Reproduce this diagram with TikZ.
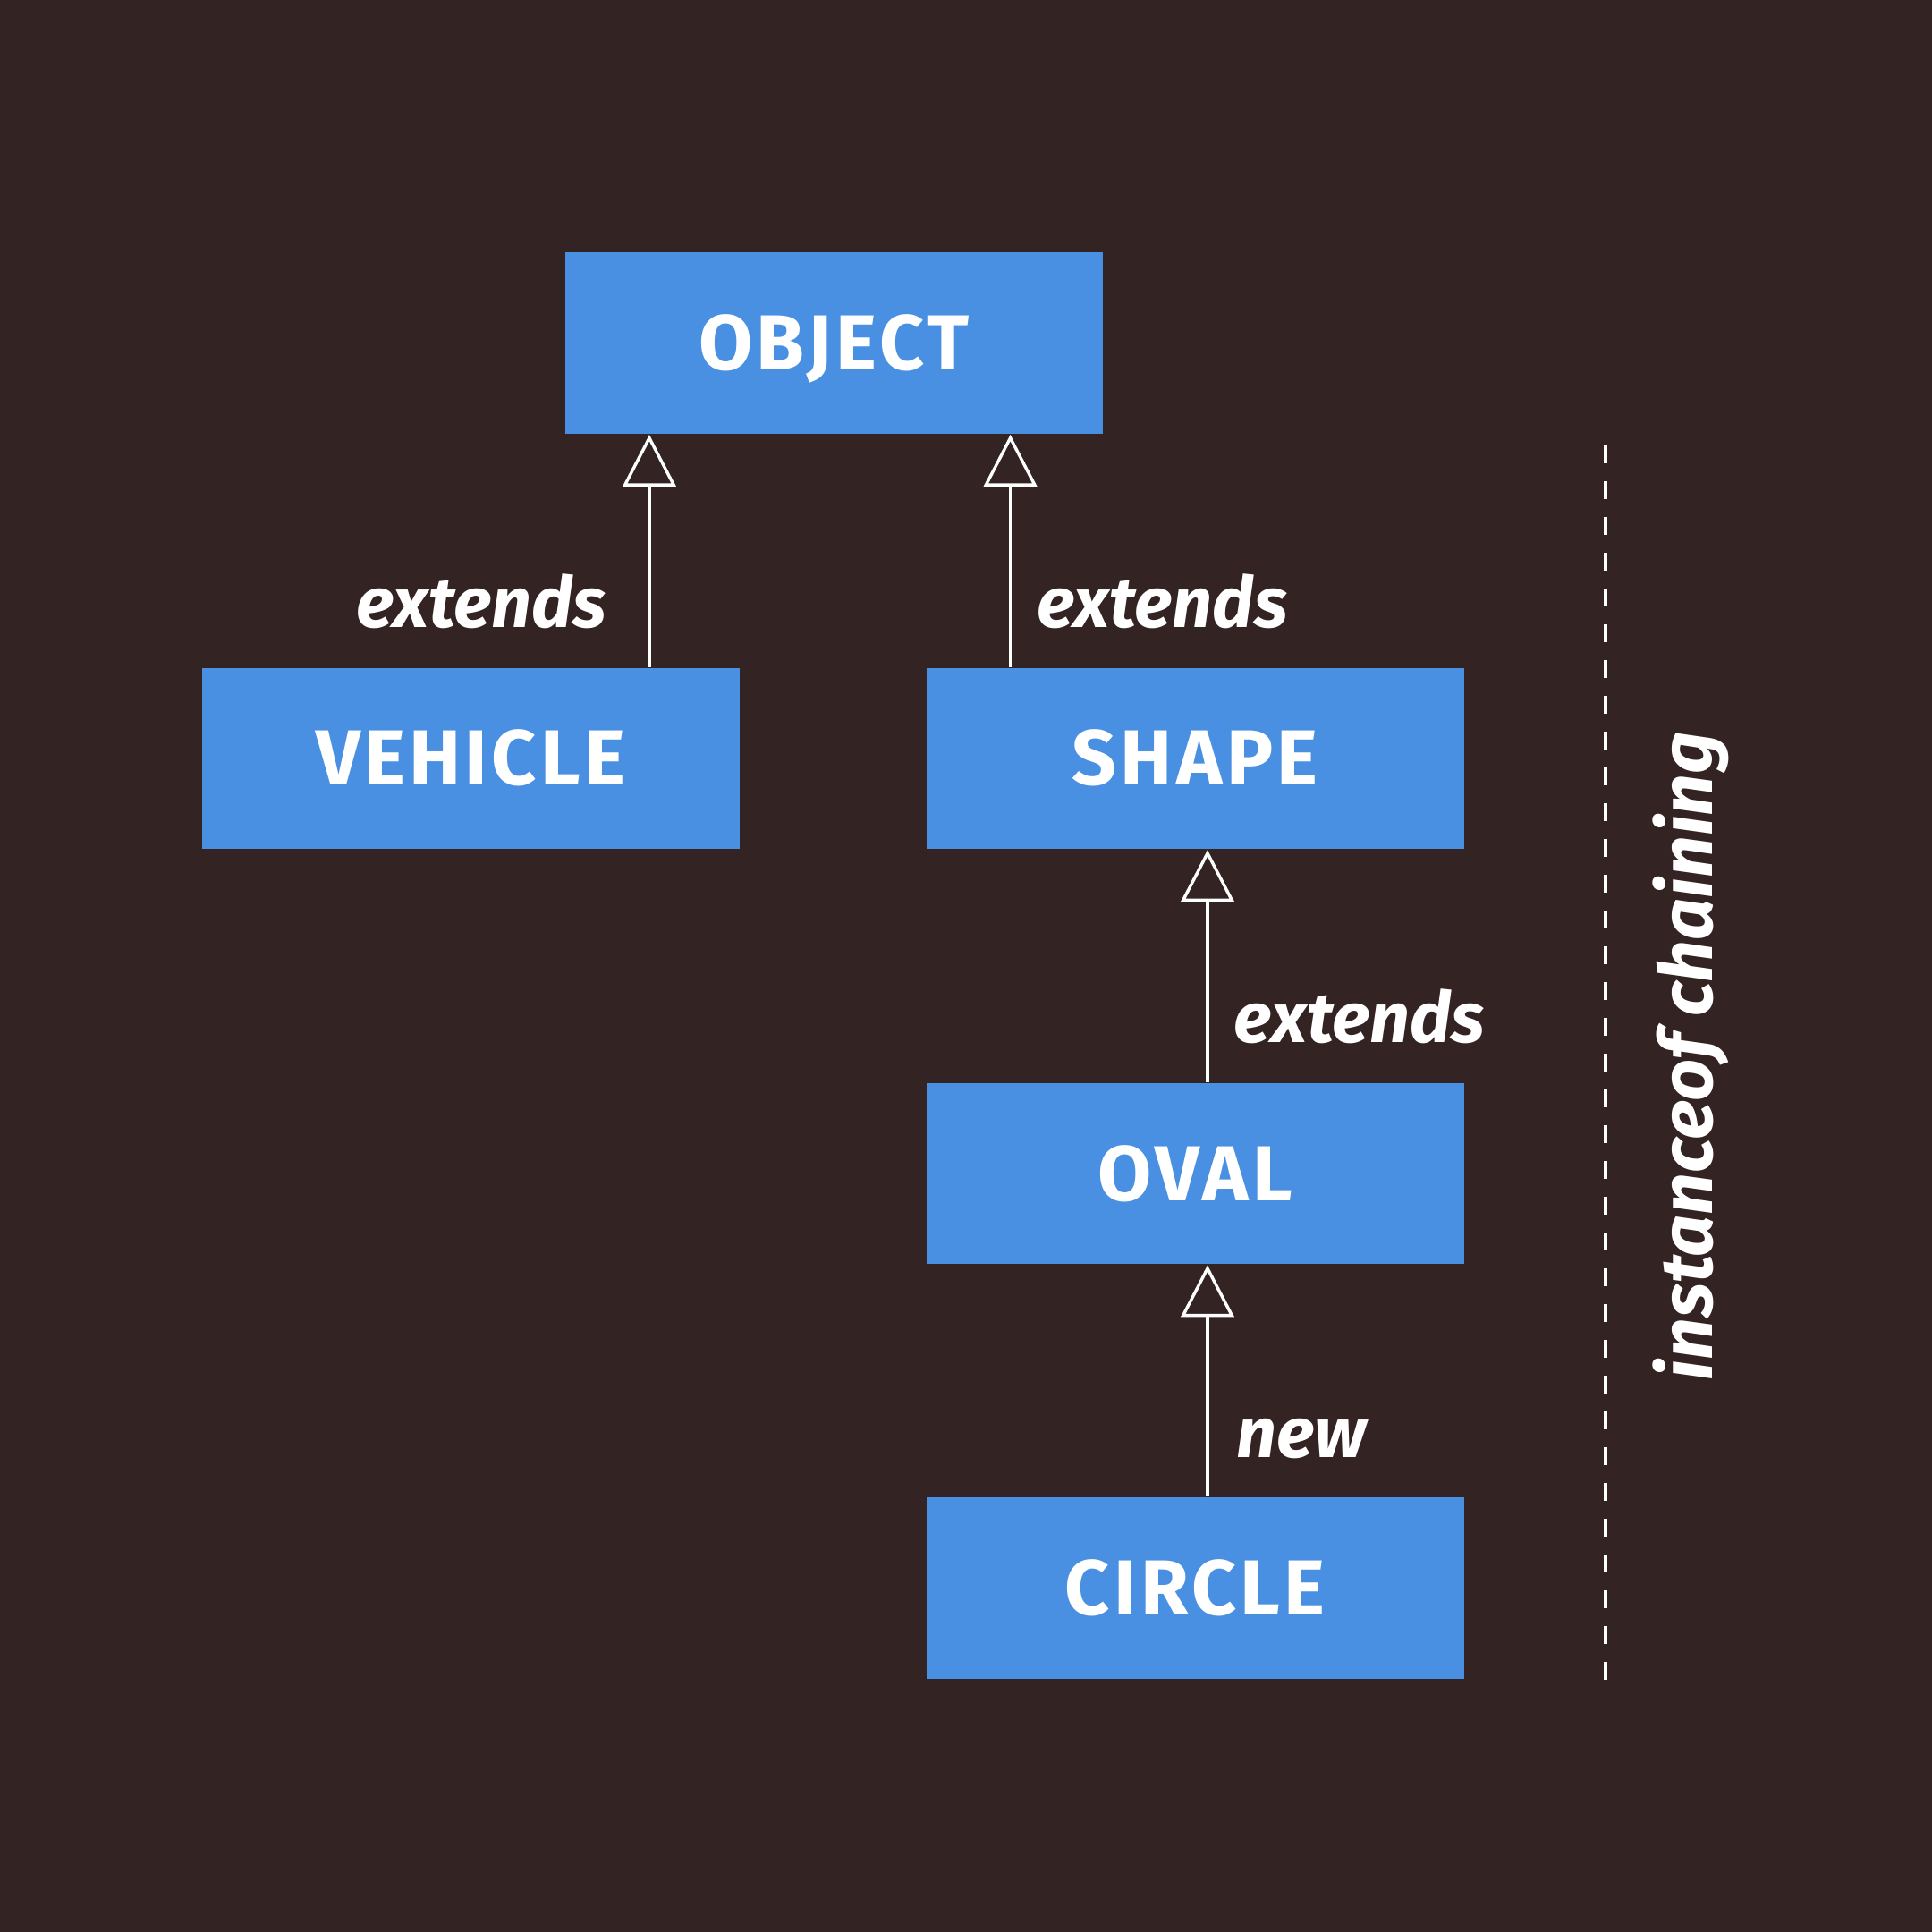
\documentclass[tikz,border=0pt]{standalone}
\usepackage{fontspec}
\setmainfont{Fira Sans}
\usetikzlibrary{arrows.meta}
\definecolor{bgc}{HTML}{332323}
\definecolor{boxc}{HTML}{4A90E2}
\tikzset{
  cls/.style={fill=boxc, draw=none, minimum width=4.36cm, minimum height=1.47cm, inner sep=0pt,
    text=white, text height=12.4pt, text depth=0pt,
    font=\fontsize{18}{20}\selectfont\bfseries\addfontfeature{LetterSpace=5}},
  inh/.style={draw=white, line width=0.7pt, -{Triangle[open, length=0.42cm, width=0.43cm, line width=0.7pt]}},
  lbl/.style={text=white, inner sep=0pt, font=\fontsize{16.3}{18}\selectfont\bfseries\itshape}
}
\begin{document}
\begin{tikzpicture}[x=0.01cm, y=-0.01cm]
\fill[bgc] (0,0) rectangle (1568,1568);
\useasboundingbox (0,0) rectangle (1568,1568);
\node[cls] (object) at (677,278.5) {OBJECT};
\node[cls] (vehicle) at (382,615.5) {VEHICLE};
\node[cls] (shape) at (970,615.5) {SHAPE};
\node[cls] (oval) at (970,952.5) {OVAL};
\node[cls] (circle) at (970,1289) {CIRCLE};
\coordinate (xa) at (527,0);
\coordinate (xb) at (820,0);
\coordinate (xc) at (980,0);
\draw[inh] (vehicle.north -| xa) -- (object.south -| xa);
\draw[inh] (shape.north -| xb) -- (object.south -| xb);
\draw[inh] (oval.north -| xc) -- (shape.south -| xc);
\draw[inh] (circle.north -| xc) -- (oval.south -| xc);
\node[lbl, anchor=base east] (l1) at (493,509) {extends};
\node[lbl, anchor=base west] (l2) at (841,509) {extends};
\node[lbl, anchor=base west] (l3) at (1001,846) {extends};
\node[lbl, anchor=base west] (l4) at (1003,1183) {new};
\coordinate (d1) at (1303,361.5);
\coordinate (d2) at (1303,1363.5);
\draw[white, line width=0.83pt, dash pattern=on 4.13pt off 4.13pt] (d1) -- (d2);
\node[lbl, rotate=90, font=\fontsize{17}{19}\selectfont\bfseries\itshape] (chain) at (1372,857) {instanceof chaining};
\end{tikzpicture}
\end{document}
